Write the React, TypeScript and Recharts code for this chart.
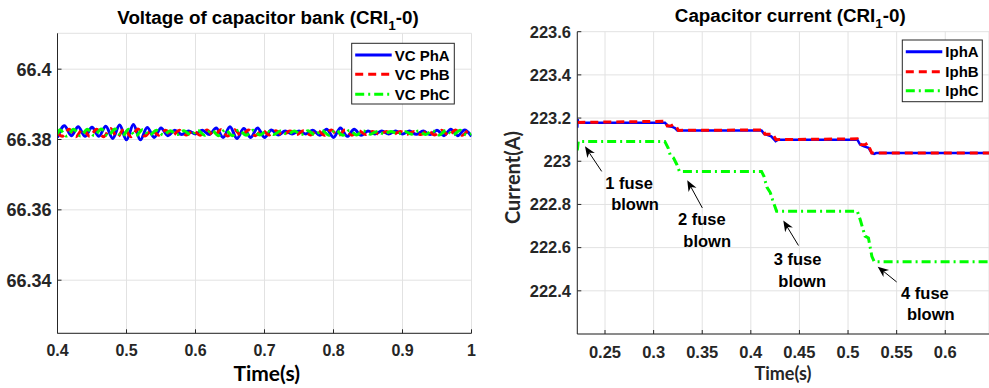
import { CartesianGrid, Line, LineChart, ReferenceDot, ReferenceLine, XAxis, YAxis } from "recharts";

// ---- Voltage of capacitor bank (left) ----
const vcTicksX = [0.4, 0.5, 0.6, 0.7, 0.8, 0.9, 1];
const vcTicksY = [66.34, 66.36, 66.38, 66.4];

const vcTimeA = [
  0.4, 0.41, 0.42, 0.43, 0.44, 0.45, 0.46, 0.47, 0.48, 0.49,
  0.5, 0.51, 0.52, 0.53, 0.54, 0.55, 0.56, 0.57, 0.58, 0.59,
  0.6, 0.61, 0.62, 0.63, 0.64, 0.65, 0.66, 0.67, 0.68, 0.69,
  0.7, 0.71, 0.72, 0.73, 0.74, 0.75, 0.76, 0.77, 0.78, 0.79,
  0.8, 0.81, 0.82, 0.83, 0.84, 0.85, 0.86, 0.87, 0.88, 0.89,
  0.9, 0.91, 0.92, 0.93, 0.94, 0.95, 0.96, 0.97, 0.98, 0.99,
  1,
];
const vcPhA = [
  66.3806, 66.3839, 66.3811, 66.3836, 66.3809, 66.3835, 66.3809, 66.3838, 66.3803, 66.3841,
  66.3799, 66.3843, 66.3799, 66.3834, 66.3806, 66.3833, 66.3811, 66.3826, 66.3814, 66.3824,
  66.3816, 66.3826, 66.3814, 66.3833, 66.3806, 66.3836, 66.3803, 66.3831, 66.3806, 66.3833,
  66.3806, 66.3827, 66.3813, 66.3824, 66.3816, 66.3824, 66.3816, 66.3826, 66.3812, 66.3829,
  66.3806, 66.3833, 66.3809, 66.3829, 66.3812, 66.3824, 66.3816, 66.3824, 66.3816, 66.3824,
  66.3816, 66.3824, 66.3815, 66.3824, 66.3814, 66.3826, 66.3811, 66.3829, 66.3811, 66.3827,
  66.3809,
];

const vcTimeB = [
  0.4,
  0.4067, 0.4167, 0.4267, 0.4367, 0.4467, 0.4567, 0.4667, 0.4767, 0.4867, 0.4967,
  0.5067, 0.5167, 0.5267, 0.5367, 0.5467, 0.5567, 0.5667, 0.5767, 0.5867, 0.5967,
  0.6067, 0.6167, 0.6267, 0.6367, 0.6467, 0.6567, 0.6667, 0.6767, 0.6867, 0.6967,
  0.7067, 0.7167, 0.7267, 0.7367, 0.7467, 0.7567, 0.7667, 0.7767, 0.7867, 0.7967,
  0.8067, 0.8167, 0.8267, 0.8367, 0.8467, 0.8567, 0.8667, 0.8767, 0.8867, 0.8967,
  0.9067, 0.9167, 0.9267, 0.9367, 0.9467, 0.9567, 0.9667, 0.9767, 0.9867, 0.9967,
  1,
];
const vcPhB = [
  66.3819,
  66.3809, 66.3829, 66.3808, 66.383, 66.3809, 66.3829, 66.3808, 66.3831, 66.3807, 66.3831,
  66.3808, 66.383, 66.381, 66.3827, 66.3812, 66.3826, 66.3812, 66.3826, 66.3813, 66.3825,
  66.3812, 66.3827, 66.381, 66.3828, 66.381, 66.3828, 66.381, 66.3827, 66.3811, 66.3826,
  66.3813, 66.3825, 66.3813, 66.3824, 66.3814, 66.3825, 66.3813, 66.3826, 66.3812, 66.3827,
  66.3811, 66.3827, 66.3812, 66.3825, 66.3814, 66.3823, 66.3815, 66.3823, 66.3815, 66.3823,
  66.3815, 66.3823, 66.3814, 66.3825, 66.3813, 66.3826, 66.3812, 66.3827, 66.3812, 66.3826,
  66.3824,
];

const vcTimeC = [
  0.4,
  0.4033, 0.4133, 0.4233, 0.4333, 0.4433, 0.4533, 0.4633, 0.4733, 0.4833, 0.4933,
  0.5033, 0.5133, 0.5233, 0.5333, 0.5433, 0.5533, 0.5633, 0.5733, 0.5833, 0.5933,
  0.6033, 0.6133, 0.6233, 0.6333, 0.6433, 0.6533, 0.6633, 0.6733, 0.6833, 0.6933,
  0.7033, 0.7133, 0.7233, 0.7333, 0.7433, 0.7533, 0.7633, 0.7733, 0.7833, 0.7933,
  0.8033, 0.8133, 0.8233, 0.8333, 0.8433, 0.8533, 0.8633, 0.8733, 0.8833, 0.8933,
  0.9033, 0.9133, 0.9233, 0.9333, 0.9433, 0.9533, 0.9633, 0.9733, 0.9833, 0.9933,
  1,
];
const vcPhC = [
  66.3816,
  66.3828, 66.381, 66.3829, 66.381, 66.3829, 66.3811, 66.383, 66.381, 66.383, 66.3809,
  66.3829, 66.381, 66.3828, 66.3812, 66.3826, 66.3813, 66.3825, 66.3814, 66.3825, 66.3813,
  66.3826, 66.3812, 66.3827, 66.3811, 66.3828, 66.3811, 66.3827, 66.3812, 66.3826, 66.3813,
  66.3825, 66.3814, 66.3824, 66.3815, 66.3824, 66.3814, 66.3825, 66.3813, 66.3826, 66.3812,
  66.3827, 66.3812, 66.3826, 66.3813, 66.3824, 66.3815, 66.3823, 66.3816, 66.3823, 66.3816,
  66.3823, 66.3815, 66.3824, 66.3814, 66.3825, 66.3813, 66.3826, 66.3813, 66.3826, 66.3813,
  66.3816,
];

// ---- Capacitor current (right) ----
const iTicksX = [0.25, 0.3, 0.35, 0.4, 0.45, 0.5, 0.55, 0.6];
const iTicksY = [222.4, 222.6, 222.8, 223, 223.2, 223.4, 223.6];

const iaTime = [0.2215, 0.2218, 0.2225, 0.3117, 0.3151, 0.3186, 0.322, 0.3244, 0.411, 0.4135, 0.416, 0.421, 0.4255, 0.428, 0.5096, 0.5124, 0.5165, 0.521, 0.5244, 0.5268, 0.529, 0.645];
const iaVal = [223.155, 223.195, 223.178, 223.178, 223.163, 223.16, 223.154, 223.143, 223.143, 223.128, 223.123, 223.115, 223.093, 223.1, 223.1, 223.077, 223.069, 223.062, 223.038, 223.034, 223.038, 223.038];

const ibTime = [0.2215, 0.3117, 0.3141, 0.318, 0.3203, 0.323, 0.3255, 0.411, 0.4125, 0.4145, 0.4205, 0.422, 0.426, 0.5096, 0.5134, 0.5175, 0.52, 0.5244, 0.645];
const ibVal = [223.18, 223.185, 223.163, 223.164, 223.17, 223.163, 223.143, 223.145, 223.148, 223.125, 223.125, 223.128, 223.1, 223.104, 223.077, 223.076, 223.084, 223.038, 223.038];

const icTime = [0.2215, 0.2225, 0.3115, 0.315, 0.317, 0.3205, 0.324, 0.3265, 0.411, 0.4135, 0.4165, 0.42, 0.4225, 0.4265, 0.5096, 0.5125, 0.5175, 0.521, 0.5245, 0.527, 0.645];
const icVal = [223.05, 223.092, 223.092, 223.061, 223.03, 223.015, 222.984, 222.953, 222.953, 222.93, 222.88, 222.855, 222.82, 222.768, 222.768, 222.73, 222.653, 222.645, 222.56, 222.535, 222.535];

// annotation arrows: tail -> tip, and the two text lines under each
const fuseArrows = [
  { from: [0.2466, 222.953], to: [0.2294, 223.069] },
  { from: [0.3501, 222.784], to: [0.3346, 222.912] },
  { from: [0.449, 222.61], to: [0.4334, 222.726] },
  { from: [0.55, 222.441], to: [0.5305, 222.512] },
];
const fuseText = [
  { t: 0.2747, v: 222.872, text: "1 fuse" },
  { t: 0.2809, v: 222.776, text: "blown" },
  { t: 0.3495, v: 222.704, text: "2 fuse" },
  { t: 0.3551, v: 222.604, text: "blown" },
  { t: 0.448, v: 222.518, text: "3 fuse" },
  { t: 0.4528, v: 222.419, text: "blown" },
  { t: 0.5791, v: 222.361, text: "4 fuse" },
  { t: 0.5851, v: 222.264, text: "blown" },
];

const AXIS = "#262626";
const GRID = "#e2e2e2";
const ARIAL = '"Liberation Sans", Arial, sans-serif';
const CALIBRI = 'Lato, "Open Sans", sans-serif';

const BLUE = { stroke: "#0000ff", dash: undefined as string | undefined };
const RED = { stroke: "#ff0000", dash: "8 5" };
const GREEN = { stroke: "#00ff00", dash: "9 4 2 4" };

const toPoints = (time: number[], values: number[]) => time.map((t, i) => ({ t, v: values[i] }));
const fmt = (v: number) => String(Number(v.toFixed(2)));

function Arrow(props: any) {
  const { x1, y1, x2, y2 } = props;
  const dx = x2 - x1;
  const dy = y2 - y1;
  const len = Math.hypot(dx, dy) || 1;
  const ux = dx / len;
  const uy = dy / len;
  const hl = 11;
  const hw = 4.5;
  const bx = x2 - ux * hl;
  const by = y2 - uy * hl;
  const nx = x2 - ux * hl * 0.7;
  const ny = y2 - uy * hl * 0.7;
  return (
    <g>
      <line x1={x1} y1={y1} x2={nx} y2={ny} stroke="#000" strokeWidth={1} />
      <polygon points={`${x2},${y2} ${bx - uy * hw},${by + ux * hw} ${nx},${ny} ${bx + uy * hw},${by - ux * hw}`} fill="#000" />
    </g>
  );
}

function LegendBox({ x, y, w, h, rows, labels }: { x: number; y: number; w: number; h: number; rows: number[]; labels: string[] }) {
  const styles = [BLUE, RED, GREEN];
  return (
    <g>
      <rect x={x} y={y} width={w} height={h} fill="#fff" stroke={AXIS} strokeWidth={1} />
      {labels.map((label, i) => (
        <g key={label}>
          <line x1={x + 3.5} x2={x + 40} y1={rows[i]} y2={rows[i]} stroke={styles[i].stroke} strokeWidth={3} strokeDasharray={styles[i].dash} />
          <text x={x + 43} y={rows[i] + 5.5} fontSize={15} fontWeight={700} fontFamily={ARIAL} fill="#000">
            {label}
          </text>
        </g>
      ))}
    </g>
  );
}

const tickStyle = (size: number) => ({ fill: AXIS, fontSize: size, fontFamily: ARIAL, fontWeight: 700 });

export default function App() {
  return (
    <div style={{ position: "fixed", left: 0, top: 0, width: 989, height: 388, background: "#fff", overflow: "hidden" }}>
      <div style={{ position: "absolute", left: 0, top: 0 }}>
        <LineChart width={500} height={388} margin={{ top: 33.3, right: 28.5, bottom: 24.7, left: 0 }}>
          <CartesianGrid stroke={GRID} />
          <XAxis type="number" dataKey="t" domain={[0.4, 1]} ticks={vcTicksX} allowDataOverflow height={30} stroke={AXIS} tickSize={-4} tickMargin={15.2} tick={tickStyle(16)} tickFormatter={fmt} />
          <YAxis type="number" dataKey="v" domain={[66.3249, 66.4102]} ticks={vcTicksY} allowDataOverflow width={57.5} stroke={AXIS} tickSize={-4} tickMargin={10} tick={tickStyle(18)} tickFormatter={fmt} />
          <Line data={toPoints(vcTimeA, vcPhA)} dataKey="v" type="monotone" stroke={BLUE.stroke} strokeWidth={3} dot={false} activeDot={false} isAnimationActive={false} />
          <Line data={toPoints(vcTimeB, vcPhB)} dataKey="v" type="monotone" stroke={RED.stroke} strokeWidth={3} strokeDasharray={RED.dash} dot={false} activeDot={false} isAnimationActive={false} />
          <Line data={toPoints(vcTimeC, vcPhC)} dataKey="v" type="monotone" stroke={GREEN.stroke} strokeWidth={3} strokeDasharray={GREEN.dash} dot={false} activeDot={false} isAnimationActive={false} />
        </LineChart>
      </div>
      <div style={{ position: "absolute", left: 500, top: 0 }}>
        <LineChart width={489} height={388} margin={{ top: 31.7, right: 0, bottom: 24, left: 0 }}>
          <CartesianGrid stroke={GRID} />
          <XAxis type="number" dataKey="t" domain={[0.2215, 0.645]} ticks={iTicksX} allowDataOverflow height={30} stroke={AXIS} tickSize={-4} tickMargin={16.2} tick={tickStyle(16.5)} tickFormatter={fmt} />
          <YAxis type="number" dataKey="v" domain={[222.2, 223.6]} ticks={iTicksY} allowDataOverflow width={77.3} stroke={AXIS} tickSize={-4} tickMargin={10.3} tick={tickStyle(16.5)} tickFormatter={fmt} />
          <Line data={toPoints(iaTime, iaVal)} dataKey="v" type="linear" stroke={BLUE.stroke} strokeWidth={2.5} dot={false} activeDot={false} isAnimationActive={false} />
          <Line data={toPoints(ibTime, ibVal)} dataKey="v" type="linear" stroke={RED.stroke} strokeWidth={3} strokeDasharray={RED.dash} dot={false} activeDot={false} isAnimationActive={false} />
          <Line data={toPoints(icTime, icVal)} dataKey="v" type="linear" stroke={GREEN.stroke} strokeWidth={3} strokeDasharray={GREEN.dash} dot={false} activeDot={false} isAnimationActive={false} />
          {fuseArrows.map((a, i) => (
            <ReferenceLine key={`arrow-${i}`} segment={[{ x: a.from[0], y: a.from[1] }, { x: a.to[0], y: a.to[1] }]} ifOverflow="visible" shape={Arrow} />
          ))}
          {fuseText.map((n, i) => (
            <ReferenceDot
              key={`note-${i}`}
              x={n.t}
              y={n.v}
              r={0}
              ifOverflow="visible"
              shape={(p: any) => (
                <text x={p.cx} y={p.cy} textAnchor="middle" fontSize={16.5} fontWeight={700} fontFamily={ARIAL} fill="#000">
                  {n.text}
                </text>
              )}
            />
          ))}
        </LineChart>
      </div>
      <svg width={989} height={388} style={{ position: "absolute", left: 0, top: 0, pointerEvents: "none" }}>
        <text x={268} y={23.5} textAnchor="middle" fontSize={18.8} fontWeight={700} fontFamily={ARIAL} fill="#000">
          Voltage of capacitor bank (CRI<tspan fontSize={13.5} dy={6}>1</tspan>
          <tspan dy={-6}>-0)</tspan>
        </text>
        <text x={790.3} y={21.8} textAnchor="middle" fontSize={18.8} fontWeight={700} fontFamily={ARIAL} fill="#000">
          Capacitor current (CRI<tspan fontSize={13.5} dy={6}>1</tspan>
          <tspan dy={-6}>-0)</tspan>
        </text>
        <text x={266.7} y={381} textAnchor="middle" fontSize={21} fontWeight={700} fontFamily={CALIBRI} fill="#000">
          Time(s)
        </text>
        <text x={783} y={380} textAnchor="middle" fontSize={18} fontWeight={700} fontFamily={CALIBRI} fill={AXIS}>
          Time(s)
        </text>
        <text x={520} y={177.5} transform="rotate(-90 520 177.5)" textAnchor="middle" fontSize={20} fontWeight={700} fontFamily={CALIBRI} fill={AXIS}>
          Current(A)
        </text>
        <LegendBox x={351.7} y={43.3} w={102.6} h={60.7} rows={[55, 74.3, 94.3]} labels={["VC PhA", "VC PhB", "VC PhC"]} />
        <LegendBox x={902.3} y={40} w={80} h={61.7} rows={[51.7, 71.7, 90.7]} labels={["IphA", "IphB", "IphC"]} />
      </svg>
    </div>
  );
}
